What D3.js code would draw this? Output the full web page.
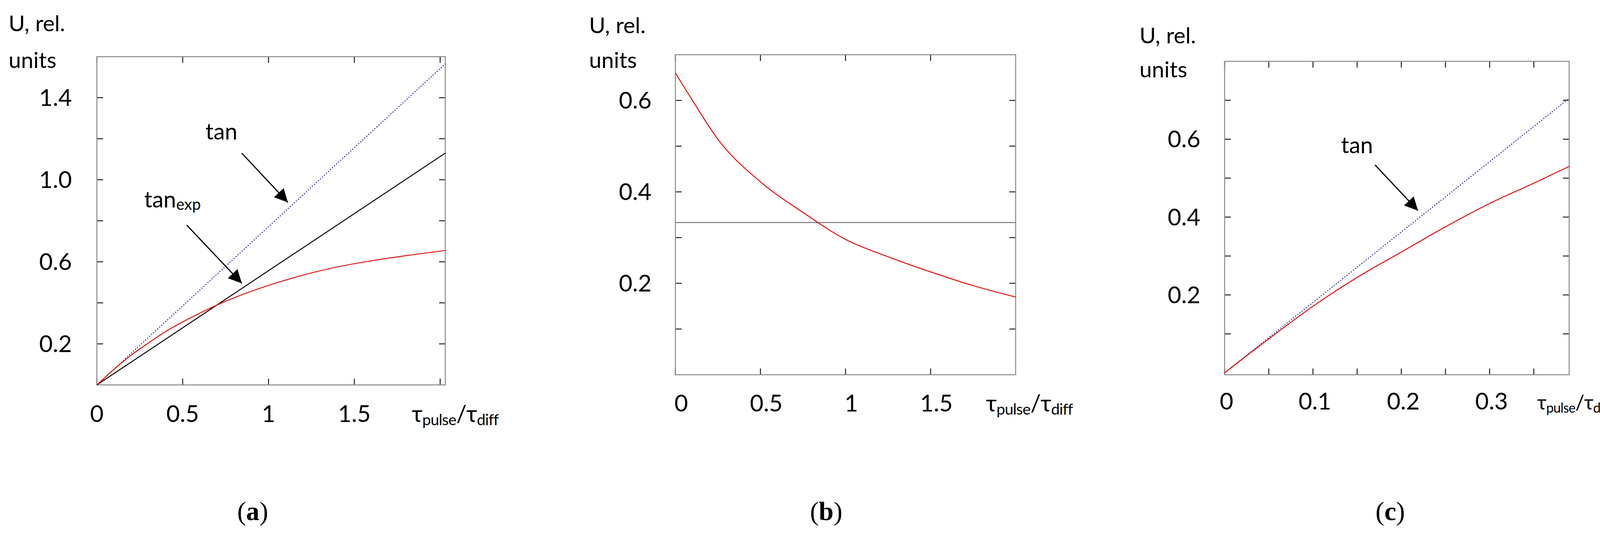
<!DOCTYPE html>
<html><head><meta charset="utf-8">
<script src="https://cdn.jsdelivr.net/npm/d3@7"></script>
<style>body{margin:0;background:#fff}</style></head>
<body><svg id="c" width="4160" height="1364"></svg>
<script>
// Panel (a)
const aX = [0,0.1,0.2,0.3,0.4,0.5,0.6,0.8,1.0,1.2,1.4,1.6,1.8,2.03];
const aRed = [0,0.076,0.145,0.204,0.26,0.307,0.35,0.425,0.485,0.535,0.575,0.605,0.63,0.655];
const aTanX = [0,2.03], aTan = [0,1.565];
const aExpX = [0,2.03], aExp = [0,1.13];
const aXTicks = [0,0.5,1,1.5,2], aXLabels = ["0","0.5","1","1.5",""];
const aYTicks = [0.2,0.4,0.6,0.8,1.0,1.2,1.4], aYLabels = ["0.2","","0.6","","1.0","","1.4"];
// Panel (b)
const bX = [0,0.1,0.25,0.5,0.75,1.0,1.25,1.5,1.75,2.0];
const bRed = [0.66,0.6,0.515,0.422,0.355,0.296,0.258,0.225,0.195,0.17];
const bLevel = 0.333;
const bXTicks = [0,0.5,1,1.5], bXLabels = ["0","0.5","1","1.5"];
const bYTicks = [0.1,0.2,0.3,0.4,0.5,0.6], bYLabels = ["","0.2","","0.4","","0.6"];
// Panel (c)
const cX = [0,0.05,0.1,0.15,0.2,0.25,0.3,0.35,0.39];
const cRed = [0,0.087,0.171,0.245,0.31,0.375,0.435,0.487,0.53];
const cTanX = [0,0.39], cTan = [0,0.705];
const cXTicks = [0,0.05,0.1,0.15,0.2,0.25,0.3,0.35], cXLabels = ["0","","0.1","","0.2","","0.3",""];
const cYTicks = [0.1,0.2,0.3,0.4,0.5,0.6,0.7], cYLabels = ["","0.2","","0.4","","0.6",""];

const svg = d3.select("#c");
const FONT = "Lato, 'Open Sans', sans-serif";
svg.append("defs").append("marker").attr("id","ah").attr("viewBox","0 0 10 10")
  .attr("refX",10).attr("refY",5).attr("markerWidth",40).attr("markerHeight",34)
  .attr("markerUnits","userSpaceOnUse").attr("orient","auto")
  .append("path").attr("d","M0,0L10,5L0,10z").attr("fill","#000");

function panel(o){
  const x = d3.scaleLinear().domain(o.xd).range([o.l,o.r]);
  const y = d3.scaleLinear().domain(o.yd).range([o.b,o.t]);
  const g = svg.append("g");
  const tl = 16;
  o.xt.forEach(v=>{
    g.append("line").attr("x1",x(v)).attr("x2",x(v)).attr("y1",o.b).attr("y2",o.b-tl).attr("stroke","#222").attr("stroke-width",2.5);
    g.append("line").attr("x1",x(v)).attr("x2",x(v)).attr("y1",o.t).attr("y2",o.t+tl).attr("stroke","#222").attr("stroke-width",2.5);
  });
  o.yt.forEach(v=>{
    g.append("line").attr("y1",y(v)).attr("y2",y(v)).attr("x1",o.l).attr("x2",o.l+tl).attr("stroke","#222").attr("stroke-width",2.5);
    g.append("line").attr("y1",y(v)).attr("y2",y(v)).attr("x1",o.r).attr("x2",o.r-tl).attr("stroke","#222").attr("stroke-width",2.5);
  });
  g.append("rect").attr("x",o.l).attr("y",o.t).attr("width",o.r-o.l).attr("height",o.b-o.t)
    .attr("fill","none").attr("stroke","#888").attr("stroke-width",2.5);
  o.xt.forEach((v,i)=>{ if(o.xl[i]) g.append("text").attr("x",x(v)+(o.xo||0)).attr("y",o.xlb).attr("text-anchor","middle")
    .attr("font-family",FONT).attr("font-size",60).text(o.xl[i]); });
  o.yt.forEach((v,i)=>{ if(o.yl[i]) g.append("text").attr("x",o.ylx).attr("y",y(v)+21).attr("text-anchor","end")
    .attr("font-family",FONT).attr("font-size",60).text(o.yl[i]); });
  g.append("text").attr("x",o.ux).attr("y",o.u1).attr("font-family",FONT).attr("font-size",57).text("U, rel.");
  g.append("text").attr("x",o.ux).attr("y",o.u2).attr("font-family",FONT).attr("font-size",57).text("units");
  const t = g.append("text").attr("x",o.tx).attr("y",o.xlb).attr("font-family",FONT).attr("font-size",o.tfs||60)
    .attr("letter-spacing",-1);
  const sfs = (o.tfs||60)*0.66;
  t.append("tspan").text("τ");
  t.append("tspan").attr("font-size",sfs).attr("dy",8).text("pulse");
  t.append("tspan").attr("dy",-8).text("/τ");
  t.append("tspan").attr("font-size",sfs).attr("dy",8).text("diff");
  g.append("text").attr("x",o.capx).attr("y",1331).attr("text-anchor","middle")
    .attr("font-family","'Liberation Serif', serif").attr("font-size",68)
    .html('(<tspan font-weight="bold">'+o.cap+'</tspan>)');
  const line = d3.line().x(d=>x(d[0])).y(d=>y(d[1])).curve(d3.curveMonotoneX);
  return {x,y,g,line};
}
function series(p,xs,ys,color,w,dash){
  p.g.append("path").attr("d",p.line(xs.map((v,i)=>[v,ys[i]]))).attr("fill","none")
   .attr("stroke",color).attr("stroke-width",w).attr("stroke-dasharray",dash||null);
}
function arrow(x1,y1,x2,y2){
  svg.append("line").attr("x1",x1).attr("y1",y1).attr("x2",x2).attr("y2",y2)
    .attr("stroke","#000").attr("stroke-width",3).attr("marker-end","url(#ah)");
}
function label(x,y,txt,sub){
  const t=svg.append("text").attr("x",x).attr("y",y).attr("font-family",FONT).attr("font-size",58).text(txt);
  if(sub) t.append("tspan").attr("font-size",40).attr("dy",6).text(sub);
}

// (a)
const pa = panel({xd:[0,2.03],yd:[0,1.6],l:248,r:1140,t:145,b:985,xt:aXTicks,xl:aXLabels,yt:aYTicks,yl:aYLabels,
  xlb:1080,ylx:184,ux:22,u1:80,u2:174,tx:1054,capx:647,cap:"a"});
series(pa,aTanX,aTan,"#2a2a9a",2.5,"3,4");
series(pa,aExpX,aExp,"#000",2.5);
series(pa,aX,aRed,"#e01010",2.5);
label(526,357,"tan"); arrow(619,392,737,518);
label(369,531,"tan","exp"); arrow(478,576,619,725);

// (b)
const pb = panel({xd:[0,2],yd:[0,0.7],l:1729,r:2600,t:140,b:959,xt:bXTicks,xl:bXLabels,yt:bYTicks,yl:bYLabels,
  xlb:1053,ylx:1668,ux:1508,u1:85,u2:174,tx:2524,capx:2115,cap:"b",xo:15});
pb.g.append("line").attr("x1",pb.x(0)).attr("x2",pb.x(2)).attr("y1",pb.y(bLevel)).attr("y2",pb.y(bLevel))
  .attr("stroke","#777").attr("stroke-width",2.5);
series(pb,bX,bRed,"#e01010",2.5);

// (c)
const pc = panel({xd:[0,0.39],yd:[-0.005,0.8],l:3135,r:4017,t:157,b:959,xt:cXTicks,xl:cXLabels,yt:cYTicks,yl:cYLabels,
  xlb:1048,ylx:3073,ux:2917,u1:111,u2:198,tx:3935,tfs:52,capx:3559,cap:"c",xo:5});
series(pc,cTanX,cTan,"#2a2a9a",2.5,"3,4");
series(pc,cX,cRed,"#e01010",2.5);
label(3433,392,"tan"); arrow(3520,422,3630,539);
</script></body></html>
